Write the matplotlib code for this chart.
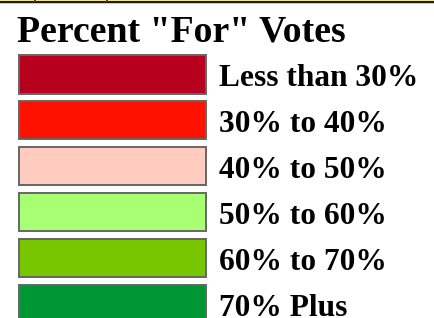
import matplotlib
matplotlib.use("Agg")
import matplotlib.pyplot as plt
from matplotlib.patches import Rectangle

title = 'Percent "For" Votes'
labels = ["Less than 30%", "30% to 40%", "40% to 50%", "50% to 60%", "60% to 70%", "70% Plus"]
colors = ["#B8001E", "#FF1100", "#FFCCBF", "#A8FF73", "#77C600", "#009535"]

W, H = 435, 318
fig = plt.figure(figsize=(W / 100, H / 100), dpi=100)
ax = fig.add_axes([0, 0, 1, 1])
ax.set_xlim(0, W)
ax.set_ylim(H, 0)
ax.axis("off")

# top border strip
ax.add_patch(Rectangle((0, 0), W, 1.4, color="#EFE58A", lw=0))
ax.add_patch(Rectangle((0, 1.4), W, 2.0, color="#1E1E1A", lw=0))
ax.add_patch(Rectangle((0, 3.4), W, 1.0, color="#C8C8C8", lw=0))
for xt in (35, 107):
    ax.add_patch(Rectangle((xt - 1, 0), 2, 1.6, color="#8A2A08", lw=0))

ax.text(17, 41, title, fontsize=27.2, fontweight="bold",
        family="Liberation Serif", ha="left", va="baseline", color="black")

y0, pitch, bh = 55, 45.9, 38.5
ys = [y0 + i * pitch for i in range(len(labels))]
ax.barh(ys, [187] * len(labels), left=19, height=bh, align="edge",
        color=colors, edgecolor="#666666", linewidth=1.4)
for y, lab in zip(ys, labels):
    ax.text(219, y + 31.5, lab, fontsize=22.6, fontweight="bold",
            family="Liberation Serif", ha="left", va="baseline", color="black")

fig.savefig("out.png", dpi=100)
